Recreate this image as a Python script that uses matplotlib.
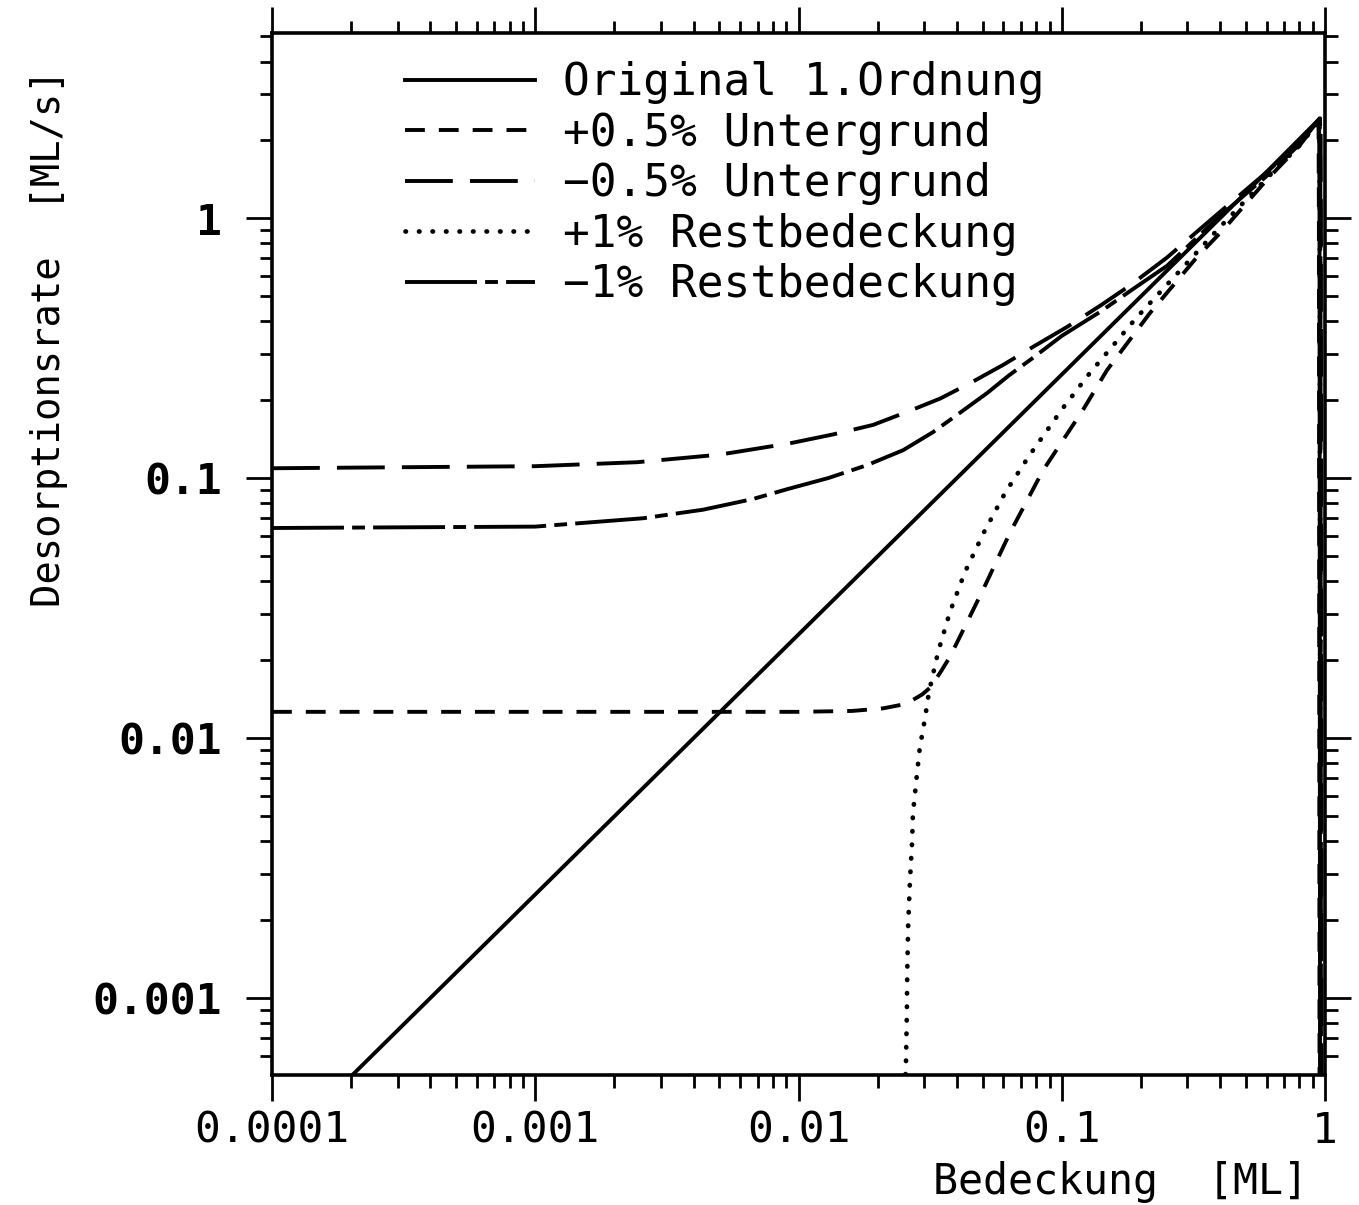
import numpy as np
import matplotlib.pyplot as plt
from matplotlib.ticker import LogLocator, NullFormatter, FixedLocator, FixedFormatter

### DATA ###

# Original 1. Ordnung
theta_orig = [1e-4, 1e-3, 1e-2, 0.1, 0.5, 0.950, 0.953, 0.956, 0.958]
rate_orig = [2.5e-4, 2.5e-3, 0.025, 0.25, 1.25, 2.40, 1.0, 0.01, 1e-4]

# +0.5% Untergrund
theta_bg_plus = [1e-4, 1e-3, 1e-2, 0.016, 0.021, 0.0245, 0.0272, 0.0295, 0.0316, 0.0345,
                 0.0376, 0.0437, 0.0502, 0.0635, 0.0849, 0.1205, 0.1486, 0.2163, 0.3266,
                 0.41, 0.6, 0.8, 0.945, 0.948, 0.951, 0.954]
rate_bg_plus = [0.0126, 0.0126, 0.0126, 0.0127, 0.0130, 0.0134, 0.0140, 0.0147, 0.0156, 0.0178,
                0.0205, 0.0279, 0.0371, 0.0614, 0.107, 0.183, 0.26, 0.431, 0.708,
                0.90, 1.4, 1.9, 2.36, 1.0, 0.01, 1e-4]

# -0.5% Untergrund
theta_bg_minus = [1e-4, 1e-3, 2.44e-3, 5.03e-3, 9.29e-3, 0.0135, 0.0192, 0.026, 0.0345,
                  0.045, 0.0598, 0.078, 0.1047, 0.14, 0.1815, 0.2512, 0.375, 0.6, 0.8,
                  0.962, 0.965, 0.968, 0.970]
rate_bg_minus = [0.109, 0.111, 0.115, 0.123, 0.136, 0.147, 0.160, 0.180, 0.202,
                 0.232, 0.272, 0.320, 0.381, 0.460, 0.550, 0.705, 1.0, 1.5, 1.95,
                 2.44, 1.0, 0.01, 1e-4]

# +1% Restbedeckung
theta_rest_plus = [0.0254, 0.0256, 0.0258, 0.0259, 0.0261, 0.0265, 0.0270, 0.0272, 0.0282,
                   0.0289, 0.0302, 0.0313, 0.0339, 0.0376, 0.0429, 0.0507, 0.0609, 0.0751,
                   0.1011, 0.1279, 0.1932, 0.299, 0.399, 0.6, 0.8, 0.953,
                   0.956, 0.959, 0.962]
rate_rest_plus = [4.5e-4, 5.6e-4, 8.8e-4, 1.3e-3, 1.9e-3, 2.8e-3, 3.95e-3, 5.1e-3, 7.3e-3,
                  9.2e-3, 0.0118, 0.0150, 0.0214, 0.0305, 0.0435, 0.062, 0.0876, 0.1215,
                  0.186, 0.2535, 0.416, 0.671, 0.923, 1.42, 1.9, 2.38,
                  1.0, 0.01, 1e-4]

# -1% Restbedeckung
theta_rest_minus = [1e-4, 1e-3, 2.57e-3, 4.34e-3, 6.71e-3, 9.04e-3, 0.013, 0.0182, 0.025,
                    0.0324, 0.041, 0.052, 0.063, 0.0778, 0.10, 0.1396, 0.19, 0.2512, 0.4,
                    0.6, 0.8, 0.958, 0.961, 0.964, 0.966]
rate_rest_minus = [0.0642, 0.0650, 0.0700, 0.0755, 0.0830, 0.0905, 0.100, 0.112, 0.128,
                   0.150, 0.178, 0.212, 0.248, 0.290, 0.352, 0.435, 0.540, 0.655, 1.02,
                   1.45, 1.92, 2.42, 1.0, 0.01, 1e-4]

labels = ["Original 1.Ordnung", "+0.5% Untergrund", "\u22120.5% Untergrund",
          "+1% Restbedeckung", "\u22121% Restbedeckung"]

x_ticks = [1e-4, 1e-3, 1e-2, 1e-1, 1]
x_ticklabels = ["0.0001", "0.001", "0.01", "0.1", "1"]
y_ticks = [1e-3, 1e-2, 1e-1, 1]
y_ticklabels = ["0.001", "0.01", "0.1", "1"]

### PLOT ###

mono = "DejaVu Sans Mono"
lw = 2.8

fig = plt.figure(figsize=(13.59, 12.05), dpi=100)
ax = fig.add_axes([272 / 1359, 1 - 1075 / 1205, 1053 / 1359, 1042 / 1205])

ax.plot(theta_orig, rate_orig, color="black", lw=lw, label=labels[0])
ax.plot(theta_bg_plus, rate_bg_plus, color="black", lw=lw, dashes=(5.1, 3.6), label=labels[1])
ax.plot(theta_bg_minus, rate_bg_minus, color="black", lw=lw, dashes=(12.3, 4.4), label=labels[2])
ax.plot(theta_rest_plus, rate_rest_plus, color="black", lw=3.4, dashes=(0.1, 2.76),
        dash_capstyle="round", label=labels[3])
ax.plot(theta_rest_minus, rate_rest_minus, color="black", lw=lw, dashes=(18.5, 2.1, 3.3, 2.1),
        label=labels[4])

ax.set_xscale("log")
ax.set_yscale("log")
ax.set_xlim(1e-4, 1)
ax.set_ylim(5.05e-4, 5.15)

# ticks outward on all four sides
ax.xaxis.set_major_locator(FixedLocator(x_ticks))
ax.xaxis.set_major_formatter(FixedFormatter(x_ticklabels))
ax.yaxis.set_major_locator(FixedLocator(y_ticks))
ax.yaxis.set_major_formatter(FixedFormatter(y_ticklabels))
ax.xaxis.set_minor_locator(LogLocator(base=10, subs=np.arange(2, 10), numticks=20))
ax.yaxis.set_minor_locator(LogLocator(base=10, subs=np.arange(2, 10), numticks=20))
ax.xaxis.set_minor_formatter(NullFormatter())
ax.yaxis.set_minor_formatter(NullFormatter())

ax.tick_params(which="both", direction="out", top=True, right=True, width=2, color="black")
ax.tick_params(which="major", length=19)
ax.tick_params(which="minor", length=9)
ax.tick_params(axis="x", which="major", pad=6)
ax.tick_params(axis="y", which="major", pad=17)

for lab in ax.get_xticklabels():
    lab.set_fontfamily(mono)
    lab.set_fontsize(31)
for lab in ax.get_yticklabels():
    lab.set_fontfamily(mono)
    lab.set_fontsize(31)
    lab.set_fontweight("bold")

for s in ax.spines.values():
    s.set_linewidth(2.6)

ax.set_xlabel("Bedeckung  [ML]", fontfamily=mono, fontsize=30, ha="right")
ax.xaxis.set_label_coords(0.984, -0.083)
ax.set_ylabel("Desorptionsrate  [ML/s]", fontfamily=mono, fontsize=28)
ax.yaxis.set_label_coords(-0.194, 0.707)

leg = ax.legend(loc="upper left", bbox_to_anchor=(0.1263, 0.973), frameon=False,
                prop={"family": mono, "size": 32}, handlelength=2.93, handletextpad=0.63,
                labelspacing=0.17, borderpad=0, borderaxespad=0)

fig.savefig("out.png", dpi=100)
